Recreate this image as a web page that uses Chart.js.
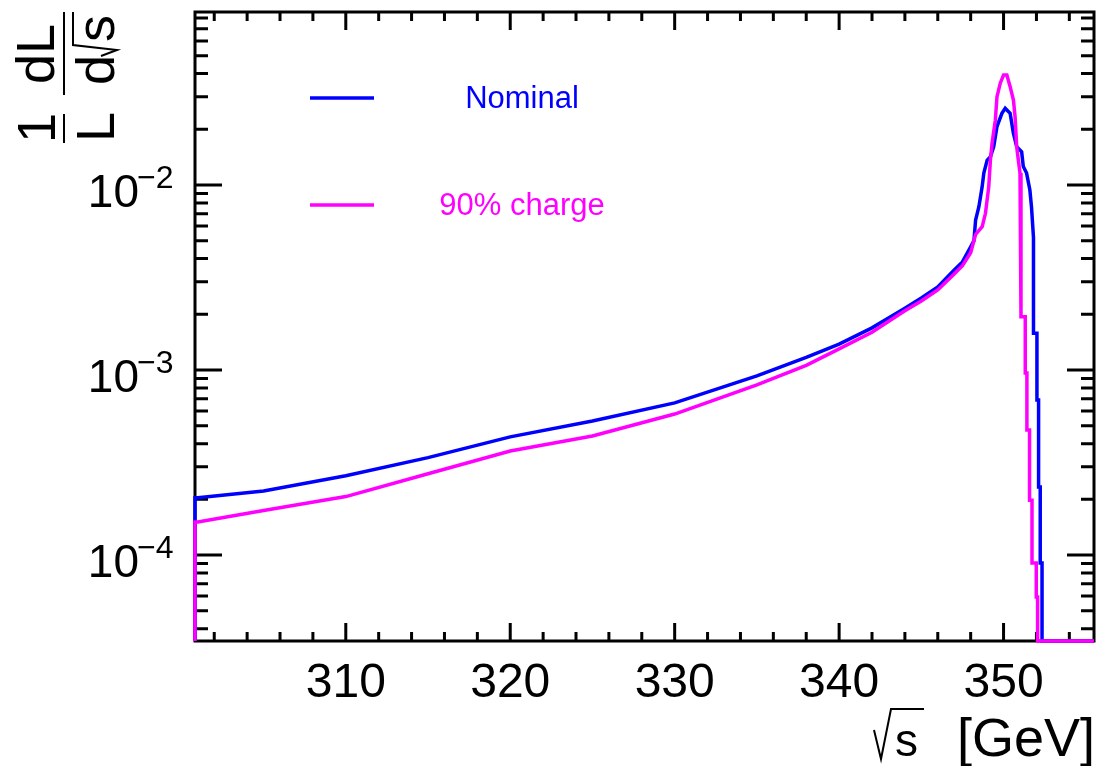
<!DOCTYPE html>
<html>
<head>
<meta charset="utf-8">
<title>Luminosity spectrum</title>
<script src="https://cdn.jsdelivr.net/npm/chart.js@4.4.1/dist/chart.umd.min.js"></script>
<style>
  html, body { margin: 0; padding: 0; background: #fff; }
</style>
</head>
<body>
<canvas id="lumi" width="1098" height="766"></canvas>
<script>
// axis ranges (GeV, 1/L dL/dsqrt(s))
const X_MIN = 300.83, X_MAX = 355.5;
const Y_MIN = 3.43e-5, Y_MAX = 8.61e-2;
const FLOOR = Y_MIN;   // empty bins are drawn on the frame, like ROOT does

const xTickValues = [310, 320, 330, 340, 350];
const yTickValues = [1e-4, 1e-3, 1e-2];
const yTickExps   = ['\u22124', '\u22123', '\u22122'];

// Nominal
const nomX = [300.83, 300.83, 301, 305, 310, 315, 320, 325, 330, 335, 338, 340, 342, 344, 345, 346, 347, 347.5, 348, 348.2,
              348.3, 348.5, 348.7, 348.8, 349.0, 349.2, 349.4, 349.6, 349.9, 350.1, 350.4, 350.6, 350.8, 351.1, 351.2,
              351.4, 351.6, 351.7, 351.82, 351.82, 352.03, 352.03, 352.13, 352.13, 352.23, 352.23, 352.34, 352.34, 355.5];
const nomY = [FLOOR, 2.04e-4, 2.04e-4, 2.22e-4, 2.68e-4, 3.36e-4, 4.35e-4, 5.30e-4, 6.64e-4, 9.29e-4, 1.17e-3, 1.38e-3,
              1.69e-3, 2.16e-3, 2.45e-3, 2.81e-3, 3.47e-3, 3.84e-3, 4.63e-3, 5.0e-3,
              6.47e-3, 7.63e-3, 9.8e-3, 1.16e-2, 1.36e-2, 1.42e-2, 1.61e-2, 2.07e-2, 2.44e-2, 2.6e-2, 2.44e-2, 1.9e-2,
              1.61e-2, 1.51e-2, 1.26e-2, 1.16e-2, 9.4e-3, 7.6e-3, 5.2e-3, 1.58e-3, 1.58e-3, 6.89e-4, 6.89e-4, 2.33e-4,
              2.33e-4, 9.06e-5, 9.06e-5, FLOOR, FLOOR];

// 90% charge
const chgX = [300.83, 300.83, 301, 305, 310, 315, 320, 325, 330, 335, 338, 340, 342, 344, 345, 346, 347, 347.5, 348, 348.3,
              348.7, 348.9, 349.1, 349.2, 349.3, 349.5, 349.6, 349.8, 350.0, 350.2, 350.4, 350.6, 350.7, 350.8, 350.9,
              351.0, 351.06, 351.06, 351.32, 351.32, 351.42, 351.42, 351.58, 351.58, 351.73, 351.73, 351.99, 351.99,
              352.07, 352.07, 355.5];
const chgY = [FLOOR, 1.51e-4, 1.51e-4, 1.74e-4, 2.07e-4, 2.75e-4, 3.65e-4, 4.4e-4, 5.78e-4, 8.3e-4, 1.06e-3, 1.3e-3,
              1.6e-3, 2.09e-3, 2.36e-3, 2.71e-3, 3.3e-3, 3.66e-3, 4.3e-3, 5.4e-3,
              5.96e-3, 7.03e-3, 9.8e-3, 1.36e-2, 1.68e-2, 2.24e-2, 3.0e-2, 3.55e-2, 3.93e-2, 3.93e-2, 3.4e-2, 2.88e-2,
              2.34e-2, 1.61e-2, 1.36e-2, 1.16e-2, 7.3e-3, 1.94e-3, 1.94e-3, 9.64e-4, 9.64e-4, 4.74e-4, 4.74e-4,
              1.98e-4, 1.98e-4, 9.06e-5, 9.06e-5, 5.93e-5, 5.93e-5, FLOOR, FLOOR];

const FONT = '"Liberation Sans", Arial, Helvetica, sans-serif';
const BLUE = '#0000ff', MAGENTA = '#ff00ff';

function pairs(xs, ys) {
  return xs.map((x, i) => ({ x, y: ys[i] }));
}

// ROOT-like frame: inward ticks on all four sides, labels, titles, legend
const rootFrame = {
  id: 'rootFrame',
  beforeDatasetsDraw(chart) {
    const { ctx, chartArea: a, scales: { x, y } } = chart;
    ctx.save();
    ctx.strokeStyle = '#000';
    ctx.lineWidth = 3;
    ctx.strokeRect(a.left, a.top, a.right - a.left, a.bottom - a.top);
    ctx.beginPath();
    for (let v = 302; v <= 354; v += 2) {
      const px = x.getPixelForValue(v);
      const len = v % 10 === 0 ? 18 : 9;
      ctx.moveTo(px, a.bottom); ctx.lineTo(px, a.bottom - len);
      ctx.moveTo(px, a.top);    ctx.lineTo(px, a.top + len);
    }
    for (let e = -5; e <= -1; e++) {
      for (let m = 1; m <= 9; m++) {
        const v = m * Math.pow(10, e);
        if (v < Y_MIN || v > Y_MAX) continue;
        const py = y.getPixelForValue(v);
        const len = m === 1 ? 27 : 13;
        ctx.moveTo(a.left, py);  ctx.lineTo(a.left + len, py);
        ctx.moveTo(a.right, py); ctx.lineTo(a.right - len, py);
      }
    }
    ctx.stroke();
    ctx.restore();
  },
  afterDraw(chart) {
    const { ctx, chartArea: a, scales: { x, y } } = chart;
    ctx.save();
    ctx.fillStyle = '#000';
    ctx.strokeStyle = '#000';

    // x tick labels
    ctx.font = `48px ${FONT}`;
    ctx.textAlign = 'center';
    ctx.textBaseline = 'alphabetic';
    xTickValues.forEach(v => ctx.fillText(String(v), x.getPixelForValue(v), a.bottom + 56));

    // y tick labels 10^-n
    yTickValues.forEach((v, i) => {
      const py = y.getPixelForValue(v);
      ctx.font = `46px ${FONT}`;
      ctx.textAlign = 'right';
      ctx.fillText('10', 139, py + 22);
      ctx.font = `32px ${FONT}`;
      ctx.textAlign = 'left';
      ctx.fillText(yTickExps[i], 137, py + 3);
    });

    // x title: sqrt(s) [GeV]
    ctx.font = `54px ${FONT}`;
    ctx.textAlign = 'right';
    ctx.fillText('[GeV]', 1095, 756);
    ctx.font = `46px ${FONT}`;
    ctx.textAlign = 'left';
    ctx.fillText('s', 895, 756);
    ctx.lineWidth = 2;
    ctx.beginPath();
    ctx.moveTo(874, 730); ctx.lineTo(881, 759); ctx.lineTo(891, 709); ctx.lineTo(924, 709);
    ctx.stroke();

    // y title: 1/L dL/dsqrt(s), rotated
    ctx.save();
    ctx.translate(64, 0);
    ctx.rotate(-Math.PI / 2);
    ctx.font = `54px ${FONT}`;
    ctx.textAlign = 'center';
    ctx.fillText('1', -128, -9);
    ctx.fillText('L', -127, 50);
    ctx.fillText('dL', -54, -10);
    ctx.textAlign = 'left';
    ctx.fillText('d', -85, 50);
    ctx.fillText('s', -42, 50);
    ctx.lineWidth = 2;
    ctx.beginPath();
    ctx.moveTo(-56, 37); ctx.lineTo(-50, 53); ctx.lineTo(-45, 9); ctx.lineTo(-12, 9);
    ctx.moveTo(-143, 0); ctx.lineTo(-114, 0);
    ctx.moveTo(-95, 0);  ctx.lineTo(-12, 0);
    ctx.stroke();
    ctx.restore();

    // legend
    const entries = [
      { text: 'Nominal',    color: BLUE,    y: 98 },
      { text: '90% charge', color: MAGENTA, y: 205 }
    ];
    ctx.font = `31px ${FONT}`;
    ctx.textAlign = 'center';
    ctx.textBaseline = 'middle';
    ctx.lineWidth = 3.5;
    entries.forEach(e => {
      ctx.strokeStyle = e.color;
      ctx.beginPath();
      ctx.moveTo(310, e.y); ctx.lineTo(374, e.y);
      ctx.stroke();
      ctx.fillStyle = e.color;
      ctx.fillText(e.text, 522, e.y + 1);
    });
    ctx.restore();
  }
};

new Chart(document.getElementById('lumi'), {
  type: 'scatter',
  data: {
    datasets: [
      {
        label: '90% charge',
        data: pairs(chgX, chgY),
        showLine: true,
        borderColor: MAGENTA,
        borderWidth: 3.5,
        pointRadius: 0,
        tension: 0,
        clip: 4,
        order: 1
      },
      {
        label: 'Nominal',
        data: pairs(nomX, nomY),
        showLine: true,
        borderColor: BLUE,
        borderWidth: 3.5,
        pointRadius: 0,
        tension: 0,
        clip: 4,
        order: 2
      }
    ]
  },
  options: {
    responsive: false,
    animation: false,
    devicePixelRatio: 1,
    layout: { padding: { left: 195, top: 12, right: 4, bottom: 125 } },
    scales: {
      x: { type: 'linear', min: X_MIN, max: X_MAX, display: false },
      y: { type: 'logarithmic', min: Y_MIN, max: Y_MAX, display: false }
    },
    plugins: {
      legend: { display: false },
      tooltip: { enabled: false }
    }
  },
  plugins: [rootFrame]
});
</script>
</body>
</html>
